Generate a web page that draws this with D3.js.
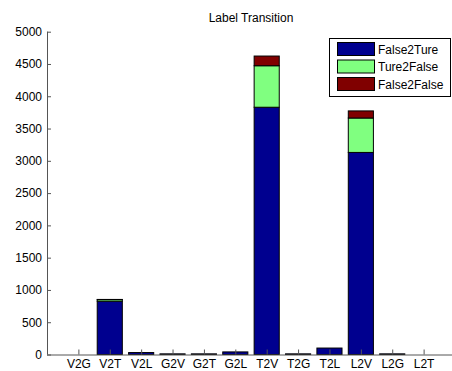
<!DOCTYPE html>
<html><head><meta charset="utf-8">
<script src="https://cdn.jsdelivr.net/npm/d3@7"></script>
<style>body{margin:0;background:#fff}svg{display:block}text{font-family:"Liberation Sans",Arial,sans-serif}</style>
</head><body><svg id="c" width="452" height="371"></svg>
<script>
const categories = ["V2G","V2T","V2L","G2V","G2T","G2L","T2V","T2G","T2L","L2V","L2G","L2T"];
const seriesNames = ["False2Ture","Ture2False","False2False"];
const false2Ture  = [0, 825, 30, 10, 10, 40, 3830, 10, 100, 3130, 10, 0];
const ture2False  = [0, 25, 0, 0, 0, 0, 643, 0, 0, 533, 0, 0];
const false2False = [0, 3, 0, 0, 0, 0, 150, 0, 0, 110, 0, 0];
const yTicks = [0,500,1000,1500,2000,2500,3000,3500,4000,4500,5000];
const colors = ["#00008f","#80ff80","#800000"];

const svg = d3.select("#c");
const x0 = 47, x1 = 455, yTop = 31.7, yBot = 354.5;
const x = d3.scaleLinear().domain([0,13]).range([x0,x1]);
const y = d3.scaleLinear().domain([0,5000]).range([yBot,yTop]);
const bw = (x(1)-x(0))*0.8;

const rows = categories.map((c,i)=>({cat:c,i, v:[false2Ture[i],ture2False[i],false2False[i]]}));
const stack = d3.stack().keys([0,1,2]).value((d,k)=>d.v[k])(rows);

stack.forEach((layer,k)=>{
  svg.append("g").selectAll("rect").data(layer).join("rect")
    .attr("x",d=>x(d.data.i+1)-bw/2)
    .attr("width",bw)
    .attr("y",d=>y(d[1]))
    .attr("height",d=>Math.max(0,y(d[0])-y(d[1])))
    .attr("fill",colors[k])
    .attr("stroke","#000").attr("stroke-width",1)
    .attr("display",d=>d[1]-d[0]>0?null:"none");
});

const axisColor="#555";
const fs = 12;
// y axis
const ya = svg.append("g").attr("transform",`translate(${x0},0)`)
  .call(d3.axisLeft(y).tickValues(yTicks).tickSize(-4).tickPadding(5).tickFormat(d3.format("d")));
ya.select(".domain").attr("stroke",axisColor).attr("d",`M0.5,${yTop}V${yBot}`);
ya.selectAll(".tick line").attr("stroke",axisColor);
ya.selectAll("text").attr("font-size",fs).attr("fill","#000");

// x axis
const xa = svg.append("g").attr("transform",`translate(0,${yBot})`)
  .call(d3.axisBottom(x).tickValues(d3.range(1,13)).tickSize(-5).tickPadding(5).tickFormat(d=>categories[d-1]));
xa.select(".domain").attr("stroke",axisColor).attr("d",`M${x0},0.5H452`);
xa.selectAll(".tick line").attr("stroke",axisColor);
xa.selectAll("text").attr("font-size",fs).attr("fill","#000");

// title
svg.append("text").attr("x",251).attr("y",22).attr("text-anchor","middle")
  .attr("font-size",fs).text("Label Transition");

// legend
const lg = svg.append("g");
lg.append("rect").attr("x",329.5).attr("y",38.5).attr("width",121).attr("height",58)
  .attr("fill","#fff").attr("stroke","#000");
seriesNames.forEach((n,k)=>{
  const yy = 42 + k*17.5;
  lg.append("rect").attr("x",337.5).attr("y",yy+0.5).attr("width",37).attr("height",13)
    .attr("fill",colors[k]).attr("stroke","#000");
  lg.append("text").attr("x",378).attr("y",yy+11.5).attr("font-size",fs).text(n);
});
</script></body></html>
